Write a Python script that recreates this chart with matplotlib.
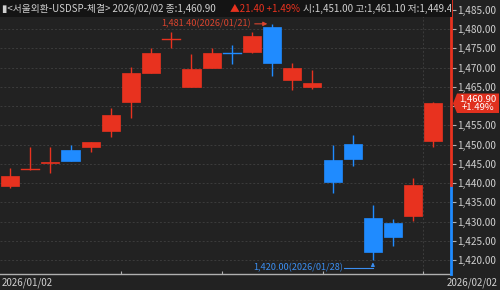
import matplotlib
matplotlib.use("Agg")
import matplotlib.pyplot as plt
from matplotlib.patches import Rectangle, Polygon

plt.rcParams['font.family'] = ['Noto Sans CJK KR', 'DejaVu Sans']

dates = ["2026/01/02", "2026/01/05", "2026/01/06", "2026/01/07", "2026/01/08", "2026/01/09",
         "2026/01/12", "2026/01/13", "2026/01/14", "2026/01/15", "2026/01/16",
         "2026/01/19", "2026/01/20", "2026/01/21", "2026/01/22", "2026/01/23",
         "2026/01/26", "2026/01/27", "2026/01/28", "2026/01/29", "2026/01/30",
         "2026/02/02"]
opens = [1439.2, 1443.5, 1445.1, 1448.6, 1449.5, 1453.6, 1461.1, 1468.5, 1477.3, 1464.9, 1470.0,
         1474.0, 1474.2, 1480.5, 1466.8, 1464.9, 1446.0, 1450.1, 1430.8, 1429.5, 1431.5, 1451.0]
highs = [1443.9, 1449.5, 1449.5, 1449.9, 1450.6, 1459.4, 1470.3, 1475.0, 1479.2, 1473.6, 1475.0,
         1475.9, 1479.4, 1481.4, 1471.1, 1469.4, 1449.9, 1452.5, 1434.3, 1430.7, 1441.2, 1461.1]
lows = [1438.7, 1443.5, 1442.7, 1445.7, 1448.2, 1452.1, 1457.0, 1468.5, 1475.0, 1464.9, 1470.0,
        1471.0, 1473.9, 1467.8, 1464.2, 1464.5, 1437.3, 1444.5, 1420.0, 1423.6, 1430.2, 1449.4]
closes = [1441.8, 1443.6, 1445.6, 1445.7, 1450.6, 1457.7, 1468.5, 1473.7, 1477.4, 1469.7, 1473.7,
          1473.8, 1478.2, 1471.1, 1469.8, 1465.9, 1440.4, 1446.2, 1422.2, 1425.9, 1439.5, 1460.9]
prev_close = 1439.5
y_ticks = [1420, 1425, 1430, 1435, 1440, 1445, 1450, 1455, 1460, 1465, 1470, 1475, 1480, 1485]
week_breaks = [5.5, 10.5, 15.5, 20.5]
header_1 = "▮<서울외환-USDSP-체결> 2026/02/02 종:1,460.90"
header_2 = "▲21.40 +1.49%"
header_3 = "시:1,451.00 고:1,461.10 저:1,449.40"

UP = "#e8321f"
DOWN = "#1f8bff"
BG = "#222222"
TXT = "#cfcfcf"

W, H = 500, 290
fig = plt.figure(figsize=(5, 2.9), dpi=100, facecolor=BG)
ax = fig.add_axes([0, 1 - 274 / H, 451.5 / W, 274 / H])
ax.set_facecolor(BG)
ax.set_xlim(-0.5, 21.9)
ax.set_ylim(1416.36, 1487.6)

# grid
for yv in y_ticks:
    ax.axhline(yv, color="#3c3c3c", lw=0.7, ls=(0, (2, 2)), zorder=0)
ax.axvline(week_breaks[-1], color="#3c3c3c", lw=0.7, ls=(0, (2, 2)), zorder=0)

# candles
bw = 0.9
for i, (o, h, l, c) in enumerate(zip(opens, highs, lows, closes)):
    col = UP if c >= o else DOWN
    ax.plot([i, i], [l, h], color=col, lw=1.0, zorder=2, solid_capstyle="butt")
    lo, hi = min(o, c), max(o, c)
    if hi - lo < 0.3:
        ax.plot([i - bw / 2, i + bw / 2], [c, c], color=col, lw=1.0, zorder=3)
    else:
        ax.add_patch(Rectangle((i - bw / 2, lo), bw, hi - lo, facecolor=col,
                               edgecolor=col, lw=0.5, zorder=3))

# annotations (max / min)
imax = highs.index(max(highs))
imin = lows.index(min(lows))
ax.annotate("", xy=(imax - 0.1, highs[imax]), xytext=(imax - 1.0, highs[imax]),
            arrowprops=dict(arrowstyle="-|>", color="#d9442e", lw=0.8, mutation_scale=6), zorder=4)
ax.text(imax - 1.05, highs[imax], "1,481.40(2026/01/21)", color="#d9442e", fontsize=6.6,
        ha="right", va="center", zorder=4)
ylow_txt = 1417.9
ax.plot([imin - 1.45, imin], [ylow_txt, ylow_txt], color="#3b8ef0", lw=0.8, zorder=4)
ax.annotate("", xy=(imin, lows[imin] + 0.1), xytext=(imin, ylow_txt),
            arrowprops=dict(arrowstyle="-|>", color="#3b8ef0", lw=0.8, mutation_scale=5), zorder=4)
ax.text(imin - 1.5, ylow_txt, "1,420.00(2026/01/28)", color="#3b8ef0", fontsize=6.6,
        ha="right", va="center", zorder=4)

# axes styling
for s in ["top", "left", "right"]:
    ax.spines[s].set_visible(False)
ax.spines["bottom"].set_color("#b0b0b0")
ax.spines["bottom"].set_linewidth(1.0)
ax.set_xticks(week_breaks)
ax.set_xticklabels([])
ax.tick_params(axis="x", direction="in", length=2, color="#b0b0b0")
ax.yaxis.tick_right()
ax.set_yticks(y_ticks)
# the 1,460.00 label is hidden behind the current-price box in the reference
ax.set_yticklabels(["" if abs(v - closes[-1]) < 2.5 else f"{v:,.2f}" for v in y_ticks])
ax.tick_params(axis="y", direction="out", length=3, width=0.8, color="#b0b0b0",
               labelcolor=TXT, labelsize=7.2, pad=1)

# right spine split red/blue at previous close
xr = ax.get_xlim()[1]
y0, y1 = ax.get_ylim()
ax.plot([xr, xr], [y0, prev_close], color=DOWN, lw=2, clip_on=False, zorder=5)
ax.plot([xr, xr], [prev_close, y1], color=UP, lw=2, clip_on=False, zorder=5)

# header strip
fig.patches.append(Rectangle((0, 1 - 17 / H), 451.5 / W, 17 / H, transform=fig.transFigure,
                             facecolor="#141414", edgecolor="none", zorder=1))
hy = 1 - 8.5 / H
t1 = fig.text(2 / W, hy, header_1, color=TXT, fontsize=7, ha="left", va="center", zorder=6)
t2 = fig.text(230 / W, hy, header_2, color=UP, fontsize=7, ha="left", va="center", zorder=6)
t3 = fig.text(303 / W, hy, header_3, color=TXT, fontsize=7, ha="left", va="center", zorder=6)
clip = Rectangle((0, 0), 451 / W, 1, transform=fig.transFigure)
for t in (t1, t2, t3):
    t.set_clip_path(clip)

# current price box
pts = [(453, 103.5), (457, 93.5), (499, 93.5), (499, 113), (457, 113)]
fig.patches.append(Polygon([(x / W, 1 - y / H) for x, y in pts], closed=True,
                           transform=fig.transFigure, facecolor="#e0301e", edgecolor="none", zorder=7))
fig.text(478 / W, 1 - 103.3 / H, "1,460.90\n+1.49%", color="white", fontsize=6.9,
         ha="center", va="center", linespacing=0.95, zorder=8)

# date labels
fig.text(2 / W, 1 - 283 / H, dates[0], color=TXT, fontsize=7, ha="left", va="center")
fig.text(498 / W, 1 - 283 / H, dates[-1], color=TXT, fontsize=7, ha="right", va="center")

fig.savefig("out.png", dpi=100, facecolor=BG)
